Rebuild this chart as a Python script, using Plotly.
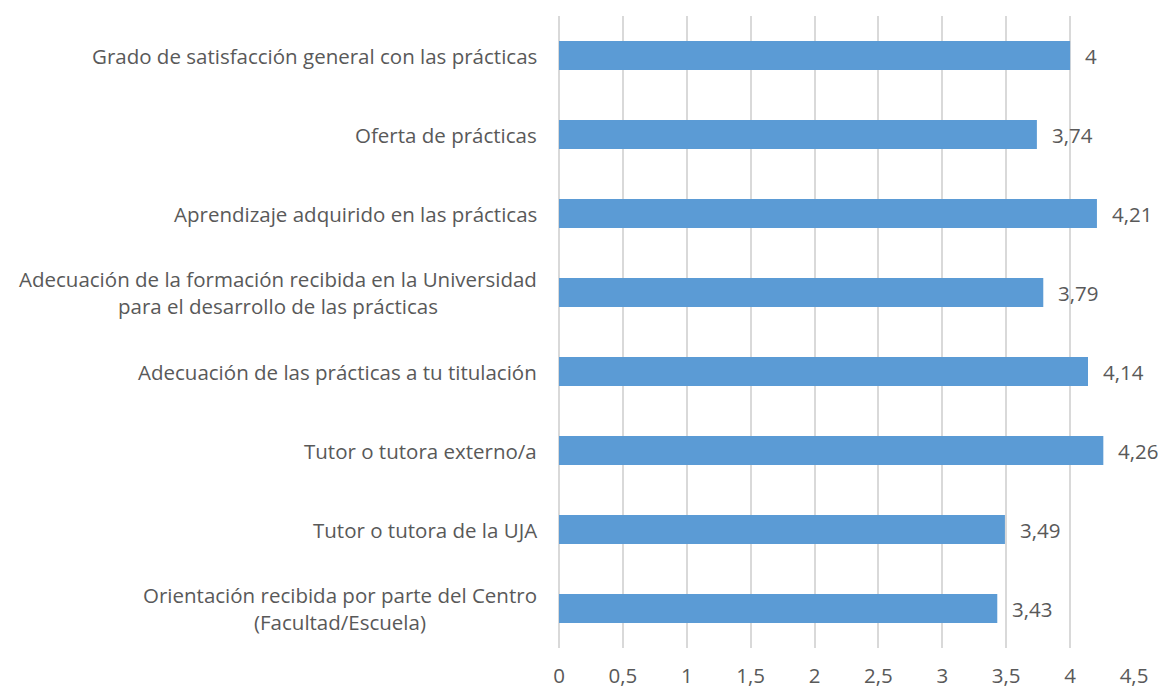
import plotly.graph_objects as go

categories = [
    "Grado de satisfacción general con las prácticas",
    "Oferta de prácticas",
    "Aprendizaje adquirido en las prácticas",
    "Adecuación de la formación recibida en la Universidad<br>para el desarrollo de las prácticas",
    "Adecuación de las prácticas a tu titulación",
    "Tutor o tutora externo/a",
    "Tutor o tutora de la UJA",
    "Orientación recibida por parte del Centro<br>(Facultad/Escuela)",
]
values = [4, 3.74, 4.21, 3.79, 4.14, 4.26, 3.49, 3.43]
tick_vals = [0, 0.5, 1, 1.5, 2, 2.5, 3, 3.5, 4, 4.5]

FONT = "Open Sans, Lato, sans-serif"
TXT = "#595959"
FS = 20.5

def fmt(v):
    s = ("%g" % v)
    return s.replace(".", ",")

fig = go.Figure()
fig.add_trace(go.Bar(
    y=categories, x=values, orientation="h",
    marker=dict(color="#5B9BD5", line=dict(width=0)),
    width=0.37, hoverinfo="skip",
))

annotations = []
for c, v in zip(categories, values):
    annotations.append(dict(x=v, y=c, xref="x", yref="y", text=fmt(v),
                            showarrow=False, xanchor="left", xshift=13,
                            font=dict(family=FONT, size=FS, color=TXT)))
    annotations.append(dict(x=0, y=c, xref="paper", yref="y", text=c,
                            showarrow=False, xanchor="right", align="center",
                            xshift=-20,
                            font=dict(family=FONT, size=FS, color=TXT)))

fig.update_layout(
    width=1158, height=681,
    margin=dict(l=551, r=32, t=8, b=41, autoexpand=False),
    paper_bgcolor="white", plot_bgcolor="white",
    separators=", ",
    showlegend=False,
    font=dict(family=FONT, size=FS, color=TXT),
    annotations=annotations,
)
fig.update_xaxes(
    range=[0, 4.5], tickvals=tick_vals, ticktext=[fmt(t) for t in tick_vals],
    showgrid=True, gridcolor="#D9D9D9", gridwidth=2,
    zeroline=True, zerolinecolor="#D9D9D9", zerolinewidth=2,
    showline=False, ticks="", ticklabelstandoff=13, automargin=False,
    tickfont=dict(family=FONT, size=FS, color=TXT),
)
fig.update_yaxes(
    categoryorder="array", categoryarray=categories[::-1],
    range=[-0.5, 7.5], showticklabels=False, showgrid=False,
    zeroline=False, showline=False, ticks="", automargin=False,
)

fig.write_html("out.html")
